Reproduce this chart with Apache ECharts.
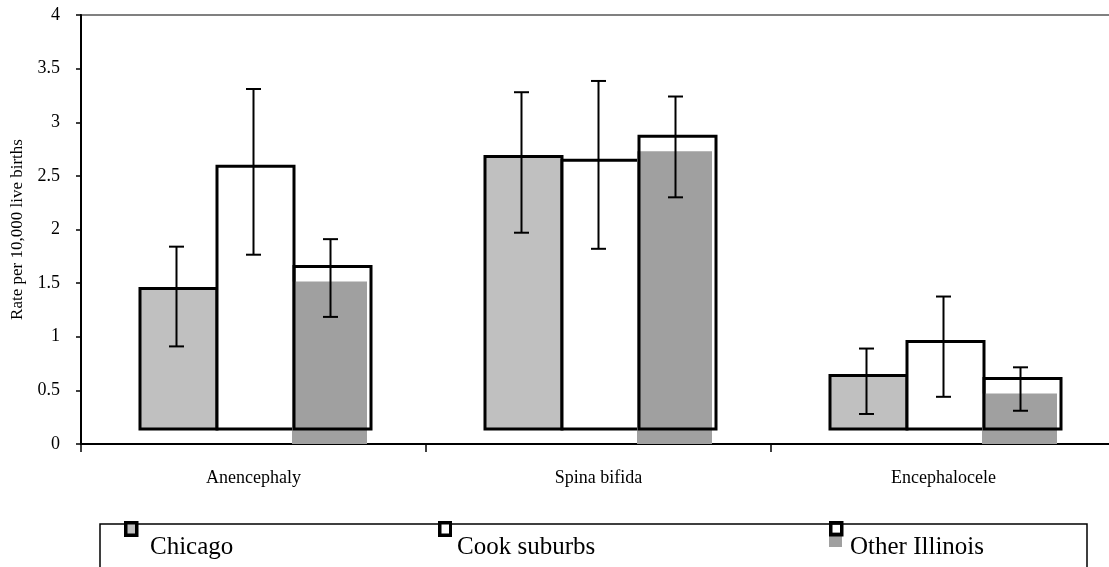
<!DOCTYPE html>
<html>
<head>
<meta charset="utf-8">
<script src="https://cdn.jsdelivr.net/npm/echarts@6/dist/echarts.min.js"></script>
<style>
html,body{margin:0;padding:0;background:#fff;}
#chart{width:1109px;height:567px;}
</style>
</head>
<body>
<div id="chart"></div>
<script>
// ---- data ----
const categories = ['Anencephaly', 'Spina bifida', 'Encephalocele'];
const chicago      = [1.31, 2.54, 0.50];
const chicagoLow   = [0.91, 1.97, 0.28];
const chicagoHigh  = [1.84, 3.28, 0.89];
const cook         = [2.45, 2.505, 0.815];
const cookLow      = [1.765, 1.82, 0.44];
const cookHigh     = [3.31, 3.385, 1.375];
const other        = [1.515, 2.73, 0.47];
const otherLow     = [1.185, 2.30, 0.31];
const otherHigh    = [1.91, 3.24, 0.715];
const yTicks = [0, 0.5, 1, 1.5, 2, 2.5, 3, 3.5, 4];

// ---- style ----
const FONT = "'Liberation Serif', 'Times New Roman', serif";
const BAR_FRAC = 0.2232;
const LIFT_Y = 15;   // outline drawn lifted (px)
const SHIFT_X = 2;   // outline drawn shifted right (px)

function rows(v, lo, hi) {
  return v.map((d, i) => [i, d, lo[i], hi[i]]);
}

function makeRender(k, kind) {
  return function (params, api) {
    const ci = api.value(0);
    const v = api.value(1), lo = api.value(2), hi = api.value(3);
    const band = api.size([1, 0])[0];
    const bw = band * BAR_FRAC;
    const base = api.coord([ci, 0]);
    const cx = base[0] + k * bw;
    const y0 = base[1];
    const yv = api.coord([ci, v])[1];
    const ylo = api.coord([ci, lo])[1];
    const yhi = api.coord([ci, hi])[1];
    const children = [];
    const ox = cx - bw / 2 + SHIFT_X;
    const oy = yv - LIFT_Y;
    const oh = y0 - yv;
    if (kind === 'other') {
      children.push({
        type: 'rect',
        shape: { x: cx - bw / 2, y: yv, width: bw - 2, height: y0 - yv },
        style: { fill: '#a0a0a0' }
      });
      children.push({
        type: 'rect',
        shape: { x: ox, y: oy, width: bw, height: oh },
        style: { fill: 'none', stroke: '#000', lineWidth: 3 }
      });
    } else {
      children.push({
        type: 'rect',
        shape: { x: ox, y: oy, width: bw, height: oh },
        style: { fill: kind === 'chicago' ? '#c0c0c0' : '#ffffff', stroke: '#000', lineWidth: 3 }
      });
    }
    const cap = 7.5;
    const es = { stroke: '#000', lineWidth: 2 };
    children.push({ type: 'line', shape: { x1: cx, y1: yhi, x2: cx, y2: ylo }, style: es });
    children.push({ type: 'line', shape: { x1: cx - cap, y1: yhi, x2: cx + cap, y2: yhi }, style: es });
    children.push({ type: 'line', shape: { x1: cx - cap, y1: ylo, x2: cx + cap, y2: ylo }, style: es });
    return { type: 'group', children: children };
  };
}

const ICON_H = 52;
function svgIcon(w, inner) {
  const svg = '<svg xmlns="http://www.w3.org/2000/svg" width="' + w + '" height="' + ICON_H +
    '" viewBox="0 0 ' + w + ' ' + ICON_H + '">' + inner + '</svg>';
  return 'image://data:image/svg+xml;charset=utf-8,' + encodeURIComponent(svg);
}
const boxChicago = '<rect x="1.75" y="1.75" width="11" height="12.5" fill="#c0c0c0" stroke="#000" stroke-width="3.5"/>';
const boxCook = '<rect x="1.75" y="1.75" width="11" height="12.5" fill="#fff" stroke="#000" stroke-width="3.5"/>';
const boxOther = '<rect x="0" y="11" width="13" height="15" fill="#a0a0a0"/><rect x="1.75" y="1.75" width="11" height="12" fill="none" stroke="#000" stroke-width="3.5"/>';

function legendItem(name, inner, left, w) {
  return {
    data: [{ name: name, icon: svgIcon(w, inner) }],
    left: left, top: 521,
    padding: 0,
    itemWidth: w, itemHeight: ICON_H,
    itemGap: 0,
    selectedMode: false,
    z: 10,
    textStyle: { fontFamily: FONT, fontSize: 25, color: '#000' }
  };
}

const chart = echarts.init(document.getElementById('chart'), null, { renderer: 'canvas' });
chart.setOption({
  animation: false,
  backgroundColor: '#fff',
  grid: {
    left: 81, top: 15, width: 1035, height: 429,
    outerBoundsMode: 'none', containLabel: false,
    show: true, borderColor: '#808080', borderWidth: 2, backgroundColor: 'transparent'
  },
  xAxis: {
    type: 'category',
    data: categories,
    axisLine: { lineStyle: { color: '#000', width: 2 } },
    axisTick: { show: true, length: 8, lineStyle: { color: '#000', width: 1.5 } },
    axisLabel: { fontFamily: FONT, fontSize: 18, color: '#000', margin: 25 },
    splitLine: { show: false }
  },
  yAxis: {
    type: 'value',
    min: yTicks[0], max: yTicks[yTicks.length - 1], interval: 0.5,
    name: 'Rate per 10,000 live births',
    nameLocation: 'middle',
    nameGap: 55,
    nameTextStyle: { fontFamily: FONT, fontSize: 17, color: '#000' },
    axisLine: { show: true, lineStyle: { color: '#000', width: 2 } },
    axisTick: { show: true, length: 5, lineStyle: { color: '#000', width: 1.5 } },
    axisLabel: { fontFamily: FONT, fontSize: 18, color: '#000', margin: 21 },
    splitLine: { show: false }
  },
  legend: [
    legendItem('Chicago', boxChicago, 124, 21),
    legendItem('Cook suburbs', boxCook, 438, 14),
    legendItem('Other Illinois', boxOther, 829, 16)
  ],
  graphic: [{
    type: 'rect', z: 1,
    shape: { x: 100, y: 524, width: 987, height: 60 },
    style: { fill: 'none', stroke: '#000', lineWidth: 1.5 }
  }],
  series: [
    { name: 'Chicago', type: 'custom', renderItem: makeRender(-1, 'chicago'), data: rows(chicago, chicagoLow, chicagoHigh), encode: { x: 0, y: [1, 2, 3] }, z: 2 },
    { name: 'Cook suburbs', type: 'custom', renderItem: makeRender(0, 'cook'), data: rows(cook, cookLow, cookHigh), encode: { x: 0, y: [1, 2, 3] }, z: 3 },
    { name: 'Other Illinois', type: 'custom', renderItem: makeRender(1, 'other'), data: rows(other, otherLow, otherHigh), encode: { x: 0, y: [1, 2, 3] }, z: 4 }
  ]
});
</script>
</body>
</html>
